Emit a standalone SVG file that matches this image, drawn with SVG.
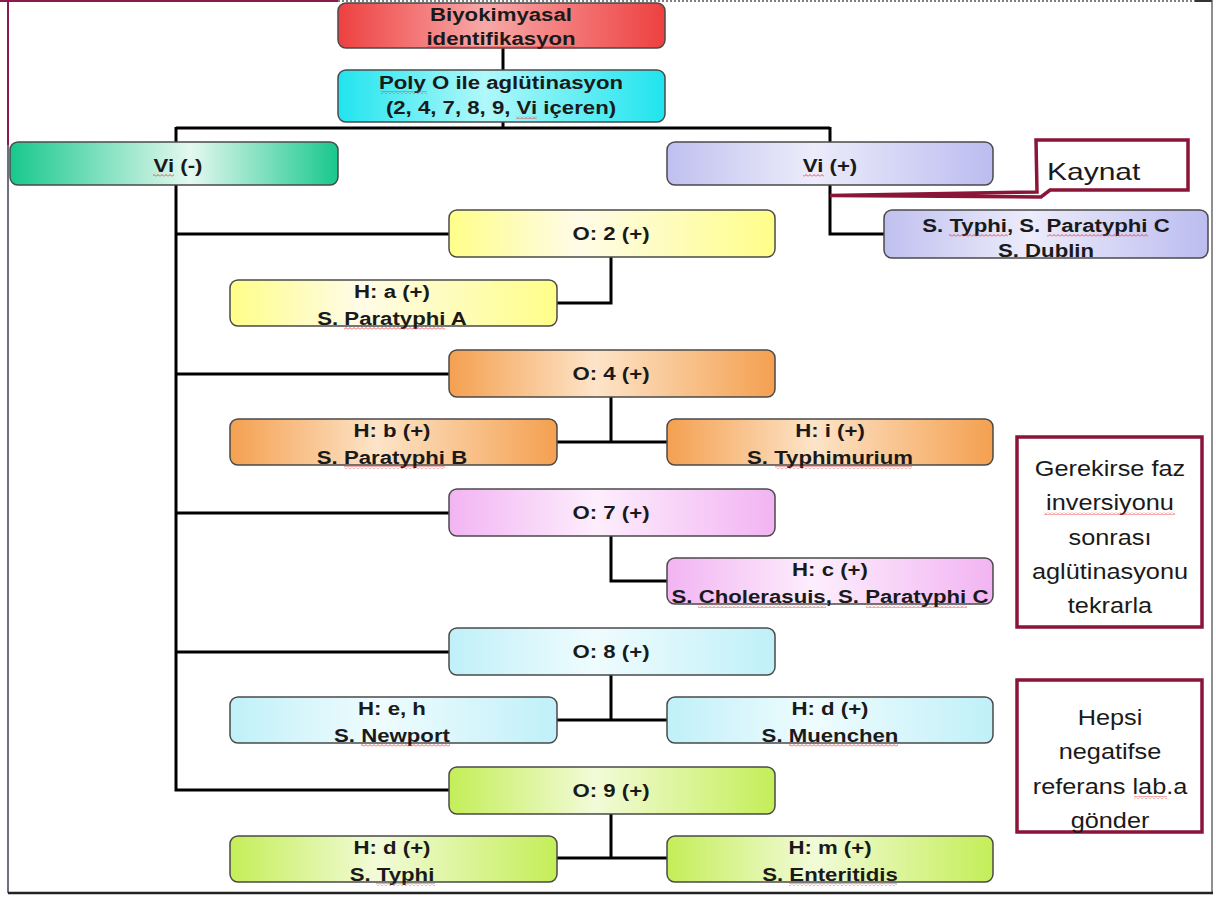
<svg xmlns="http://www.w3.org/2000/svg" width="1216" height="897" viewBox="0 0 1216 897">
<style>
.box{stroke:#4a4a4a;stroke-width:1.5}
.t{font-family:"Liberation Sans",Arial,sans-serif;font-weight:bold;font-size:18.5px;fill:#1a1a1a;text-anchor:middle}
.n{font-family:"Liberation Sans",Arial,sans-serif;font-size:22px;fill:#1a1a1a;text-anchor:middle}
.k{font-family:"Liberation Sans",Arial,sans-serif;font-size:24px;fill:#1a1a1a}
.c{fill:none;stroke:#000;stroke-width:3}
.note{fill:#fff;stroke:#8a1538;stroke-width:3.5}
.sq{fill:url(#sq)}
</style>
<defs>
<pattern id="sq" width="4" height="3" patternUnits="userSpaceOnUse"><path d="M0,2.5 L2,0.5 L4,2.5" fill="none" stroke="#e03030" stroke-width="0.8"/></pattern>
<linearGradient id="gRed" x1="0" x2="1" y1="0" y2="0"><stop offset="0" stop-color="#ee4040"/><stop offset="0.45" stop-color="#f8a8a8"/><stop offset="1" stop-color="#ee4040"/></linearGradient>
<linearGradient id="gCyan" x1="0" x2="1" y1="0" y2="0"><stop offset="0" stop-color="#20e4ee"/><stop offset="0.45" stop-color="#b0f8fa"/><stop offset="1" stop-color="#20e4ee"/></linearGradient>
<linearGradient id="gGreen" x1="0" x2="1" y1="0" y2="0"><stop offset="0" stop-color="#18c88c"/><stop offset="0.55" stop-color="#e4f8f0"/><stop offset="1" stop-color="#18c88c"/></linearGradient>
<linearGradient id="gLav" x1="0" x2="1" y1="0" y2="0"><stop offset="0" stop-color="#c0c0f0"/><stop offset="0.45" stop-color="#ececfb"/><stop offset="1" stop-color="#bcbcf0"/></linearGradient>
<linearGradient id="gYel" x1="0" x2="1" y1="0" y2="0"><stop offset="0" stop-color="#fefe88"/><stop offset="0.4" stop-color="#fffbe8"/><stop offset="1" stop-color="#fefe88"/></linearGradient>
<linearGradient id="gOr" x1="0" x2="1" y1="0" y2="0"><stop offset="0" stop-color="#f4a050"/><stop offset="0.45" stop-color="#fde4c8"/><stop offset="1" stop-color="#f4a050"/></linearGradient>
<linearGradient id="gPink" x1="0" x2="1" y1="0" y2="0"><stop offset="0" stop-color="#f2b4f2"/><stop offset="0.45" stop-color="#fdeefd"/><stop offset="1" stop-color="#f2b4f2"/></linearGradient>
<linearGradient id="gLc" x1="0" x2="1" y1="0" y2="0"><stop offset="0" stop-color="#c0f0f8"/><stop offset="0.45" stop-color="#effcfe"/><stop offset="1" stop-color="#c0f0f8"/></linearGradient>
<linearGradient id="gLg" x1="0" x2="1" y1="0" y2="0"><stop offset="0" stop-color="#c4ee58"/><stop offset="0.45" stop-color="#f2fbd8"/><stop offset="1" stop-color="#c4ee58"/></linearGradient>
</defs>
<rect width="1216" height="897" fill="#fff"/>
<g id="frame">
<line x1="8" y1="0" x2="8" y2="145" stroke="#8a1a4a" stroke-width="2"/>
<line x1="8" y1="145" x2="8" y2="893" stroke="#6e7080" stroke-width="2"/>
<line x1="0" y1="1" x2="338" y2="1" stroke="#8a1a4a" stroke-width="2"/>
<line x1="338" y1="1" x2="1195" y2="1" stroke="#555" stroke-width="1.5" stroke-dasharray="2 2"/>
<line x1="1195" y1="1" x2="1212" y2="1" stroke="#333" stroke-width="2"/>
<line x1="1212" y1="0" x2="1212" y2="893" stroke="#444" stroke-width="1.2"/>
<line x1="8" y1="893" x2="1213" y2="893" stroke="#222" stroke-width="2.5"/>
</g>
<g id="connectors">
<path class="c" d="M503,48 V70"/>
<path class="c" d="M503,122 V128 M176,128 H830 M176,127 V142 M830,127 V142"/>
<path class="c" d="M830,185 V234 H884"/>
<path class="c" d="M176,185 V790 H449 M176,234 H449 M176,374 H449 M176,513 H449 M176,652 H449"/>
<path class="c" d="M611,257 V303 H557"/>
<path class="c" d="M611,397 V442 M557,442 H667"/>
<path class="c" d="M611,535 V581 H667"/>
<path class="c" d="M611,675 V720 M557,720 H667"/>
<path class="c" d="M611,813 V858 M557,858 H667"/>
</g>
<g id="n-biyo"><rect class="box" x="338" y="3" width="327" height="45" rx="8" fill="url(#gRed)"/>
<text class="t" transform="translate(501,21) scale(1.2,1)">Biyokimyasal</text>
<text class="t" transform="translate(501,45) scale(1.2,1)">identifikasyon</text>
<rect class="sq" x="427" y="46" width="148" height="3"/></g>
<g id="n-poly"><rect class="box" x="338" y="70" width="327" height="52" rx="8" fill="url(#gCyan)"/>
<text class="t" transform="translate(501,89) scale(1.2,1)">Poly O ile aglütinasyon</text>
<text class="t" transform="translate(501,114) scale(1.2,1)">(2, 4, 7, 8, 9, Vi içeren)</text>
<rect class="sq" x="381" y="91" width="46" height="3"/><rect class="sq" x="516" y="116" width="21" height="3"/></g>
<g id="n-vineg"><rect class="box" x="10" y="142" width="328" height="43" rx="8" fill="url(#gGreen)"/>
<text class="t" transform="translate(178,172) scale(1.2,1)">Vi (-)</text>
<rect class="sq" x="153" y="174" width="21" height="3"/></g>
<g id="n-vipos"><rect class="box" x="667" y="142" width="326" height="43" rx="8" fill="url(#gLav)"/>
<text class="t" transform="translate(830,172) scale(1.2,1)">Vi (+)</text>
<rect class="sq" x="803" y="174" width="21" height="3"/></g>
<g id="n-kaynat"><path class="note" d="M1036,140 H1188 V190 H1050 L1041,197 L830,195.5 L1037,192 Z"/>
<text class="k" transform="translate(1047,180) scale(1.25,1)">Kaynat</text></g>
<g id="n-typhi"><rect class="box" x="884" y="210" width="324" height="48" rx="8" fill="url(#gLav)"/>
<text class="t" transform="translate(1046,232) scale(1.2,1)">S. Typhi, S. Paratyphi C</text>
<text class="t" transform="translate(1046,257) scale(1.2,1)">S. Dublin</text>
<rect class="sq" x="949" y="234" width="59" height="3"/><rect class="sq" x="1047" y="234" width="101" height="3"/></g>
<g id="n-o2"><rect class="box" x="449" y="210" width="326" height="47" rx="8" fill="url(#gYel)"/>
<text class="t" transform="translate(611,240) scale(1.2,1)">O: 2 (+)</text></g>
<g id="n-ha"><rect class="box" x="230" y="280" width="327" height="46" rx="8" fill="url(#gYel)"/>
<text class="t" transform="translate(392,298) scale(1.2,1)">H: a (+)</text>
<text class="t" transform="translate(392,325) scale(1.2,1)">S. Paratyphi A</text>
<rect class="sq" x="344" y="327" width="101" height="3"/></g>
<g id="n-o4"><rect class="box" x="449" y="350" width="326" height="47" rx="8" fill="url(#gOr)"/>
<text class="t" transform="translate(611,380) scale(1.2,1)">O: 4 (+)</text></g>
<g id="n-hb"><rect class="box" x="230" y="419" width="327" height="46" rx="8" fill="url(#gOr)"/>
<text class="t" transform="translate(392,437) scale(1.2,1)">H: b (+)</text>
<text class="t" transform="translate(392,464) scale(1.2,1)">S. Paratyphi B</text>
<rect class="sq" x="344" y="466" width="101" height="3"/></g>
<g id="n-hi"><rect class="box" x="667" y="419" width="326" height="46" rx="8" fill="url(#gOr)"/>
<text class="t" transform="translate(830,437) scale(1.2,1)">H: i (+)</text>
<text class="t" transform="translate(830,464) scale(1.2,1)">S. Typhimurium</text>
<rect class="sq" x="775" y="466" width="137" height="3"/></g>
<g id="n-o7"><rect class="box" x="449" y="489" width="326" height="47" rx="8" fill="url(#gPink)"/>
<text class="t" transform="translate(611,519) scale(1.2,1)">O: 7 (+)</text></g>
<g id="n-hc"><rect class="box" x="667" y="558" width="326" height="46" rx="8" fill="url(#gPink)"/>
<text class="t" transform="translate(830,576) scale(1.2,1)">H: c (+)</text>
<text class="t" transform="translate(830,603) scale(1.2,1)">S. Cholerasuis, S. Paratyphi C</text>
<rect class="sq" x="698" y="605" width="128" height="3"/><rect class="sq" x="866" y="605" width="101" height="3"/></g>
<g id="n-o8"><rect class="box" x="449" y="628" width="326" height="47" rx="8" fill="url(#gLc)"/>
<text class="t" transform="translate(611,658) scale(1.2,1)">O: 8 (+)</text></g>
<g id="n-heh"><rect class="box" x="230" y="697" width="327" height="46" rx="8" fill="url(#gLc)"/>
<text class="t" transform="translate(392,715) scale(1.2,1)">H: e, h</text>
<text class="t" transform="translate(392,742) scale(1.2,1)">S. Newport</text>
<rect class="sq" x="361" y="744" width="89" height="3"/></g>
<g id="n-hd8"><rect class="box" x="667" y="697" width="326" height="46" rx="8" fill="url(#gLc)"/>
<text class="t" transform="translate(830,715) scale(1.2,1)">H: d (+)</text>
<text class="t" transform="translate(830,742) scale(1.2,1)">S. Muenchen</text>
<rect class="sq" x="789" y="744" width="109" height="3"/></g>
<g id="n-o9"><rect class="box" x="449" y="767" width="326" height="47" rx="8" fill="url(#gLg)"/>
<text class="t" transform="translate(611,797) scale(1.2,1)">O: 9 (+)</text></g>
<g id="n-hd9"><rect class="box" x="230" y="836" width="327" height="46" rx="8" fill="url(#gLg)"/>
<text class="t" transform="translate(392,854) scale(1.2,1)">H: d (+)</text>
<text class="t" transform="translate(392,881) scale(1.2,1)">S. Typhi</text>
<rect class="sq" x="376" y="883" width="59" height="3"/></g>
<g id="n-hm"><rect class="box" x="667" y="836" width="326" height="46" rx="8" fill="url(#gLg)"/>
<text class="t" transform="translate(830,854) scale(1.2,1)">H: m (+)</text>
<text class="t" transform="translate(830,881) scale(1.2,1)">S. Enteritidis</text>
<rect class="sq" x="789" y="883" width="108" height="3"/></g>
<g id="n-gerekirse"><rect class="note" x="1017" y="437" width="185" height="190"/>
<text class="n" transform="translate(1110,476) scale(1.15,1)">Gerekirse faz</text>
<text class="n" transform="translate(1110,510) scale(1.15,1)">inversiyonu</text>
<text class="n" transform="translate(1110,545) scale(1.15,1)">sonrası</text>
<text class="n" transform="translate(1110,579) scale(1.15,1)">aglütinasyonu</text>
<text class="n" transform="translate(1110,613) scale(1.15,1)">tekrarla</text>
<rect class="sq" x="1044" y="512" width="131" height="3"/></g>
<g id="n-hepsi"><rect class="note" x="1017" y="680" width="185" height="152"/>
<text class="n" transform="translate(1110,725) scale(1.15,1)">Hepsi</text>
<text class="n" transform="translate(1110,759) scale(1.15,1)">negatifse</text>
<text class="n" transform="translate(1110,794) scale(1.15,1)">referans lab.a</text>
<text class="n" transform="translate(1110,828) scale(1.15,1)">gönder</text>
<rect class="sq" x="1134" y="796" width="33" height="3"/></g>
</svg>
